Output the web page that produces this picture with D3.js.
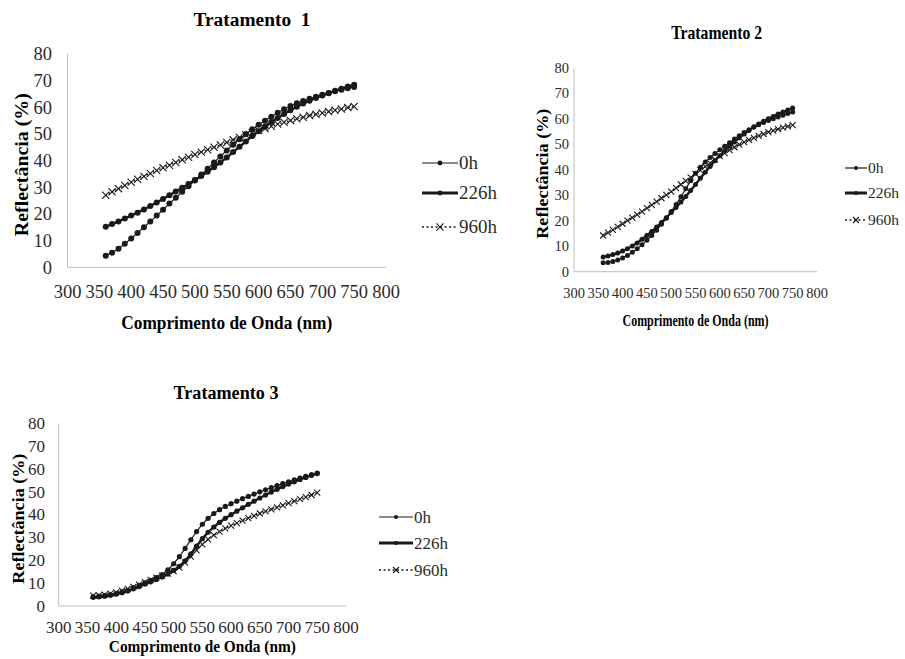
<!DOCTYPE html>
<html><head><meta charset="utf-8">
<script src="https://cdn.jsdelivr.net/npm/d3@7"></script>
<style>body{margin:0;background:#fff}svg{display:block}</style>
</head><body><svg id="c" width="905" height="659" font-family="'Liberation Serif','Times New Roman',serif"></svg>
<script>
// ---------- data ----------
const wavelengths=[360,370,380,390,400,410,420,430,440,450,460,470,480,490,500,510,520,530,540,550,560,570,580,590,600,610,620,630,640,650,660,670,680,690,700,710,720,730,740,750];
const xTicks=[300,350,400,450,500,550,600,650,700,750,800];
const yTicks=[0,10,20,30,40,50,60,70,80];
const seriesNames=["0h","226h","960h"];
const panelTitles=["Tratamento  1","Tratamento 2","Tratamento 3"];
const xAxisTitle="Comprimento de Onda (nm)";
const yAxisTitle="Reflectância (%)";

const t1_0h=[4.3,5.5,7.0,8.8,10.8,12.9,15.0,17.2,19.4,21.6,23.9,26.1,28.3,30.4,32.6,34.8,37.0,39.3,41.6,43.8,46.0,48.0,50.0,51.8,53.5,55.0,56.5,58.0,59.3,60.5,61.5,62.4,63.2,64.0,64.7,65.4,66.0,66.6,67.2,67.6];
const t1_226h=[15.2,16.2,17.2,18.3,19.4,20.5,21.7,23.0,24.3,25.6,27.0,28.4,29.8,31.2,32.7,34.2,35.8,37.5,39.3,41.2,43.2,45.2,47.2,49.2,51.0,52.8,54.5,56.0,57.5,58.9,60.2,61.4,62.5,63.5,64.4,65.3,66.2,67.0,67.8,68.5];
const t1_960h=[27.0,28.3,29.5,30.7,31.9,33.0,34.1,35.2,36.3,37.3,38.3,39.3,40.3,41.3,42.3,43.2,44.1,45.0,45.9,46.8,47.8,48.7,49.6,50.5,51.3,52.1,52.9,53.7,54.4,55.1,55.7,56.3,56.9,57.4,57.9,58.4,58.9,59.4,59.9,60.3];

const t2_0h=[3.5,3.6,4.0,4.6,5.4,6.4,7.6,9.0,10.6,12.3,14.2,16.3,18.6,21.0,23.6,26.4,29.4,32.5,35.7,38.6,41.0,43.0,44.8,46.4,47.8,49.2,50.6,52.0,53.3,54.6,55.7,56.7,57.6,58.5,59.3,60.0,60.7,61.4,62.0,62.6];
const t2_226h=[5.8,6.2,6.7,7.3,8.1,9.0,10.1,11.3,12.7,14.2,15.8,17.5,19.3,21.2,23.2,25.2,27.3,29.5,31.8,34.2,36.6,39.0,41.3,43.5,45.5,47.4,49.2,50.9,52.5,54.0,55.4,56.7,57.9,59.0,60.0,60.9,61.8,62.6,63.4,64.2];
const t2_960h=[14.2,15.3,16.4,17.6,18.8,20.0,21.2,22.4,23.6,24.9,26.2,27.5,28.8,30.1,31.4,32.8,34.2,35.6,37.0,38.4,39.8,41.2,42.6,44.0,45.3,46.5,47.7,48.8,49.8,50.8,51.7,52.5,53.3,54.0,54.7,55.3,55.9,56.5,57.0,57.5];

const t3_0h=[4.0,4.2,4.5,4.9,5.4,6.1,6.9,7.9,9.0,10.1,11.2,12.4,13.8,15.8,18.5,21.6,25.2,29.0,32.6,35.8,38.4,40.5,42.2,43.6,44.8,45.9,47.0,48.0,49.0,50.0,50.9,51.8,52.7,53.6,54.4,55.2,56.0,56.8,57.5,58.2];
const t3_226h=[3.8,4.0,4.3,4.7,5.2,5.8,6.6,7.5,8.5,9.6,10.6,11.6,12.7,14.0,15.6,17.4,19.8,22.8,26.2,29.5,32.3,34.6,36.6,38.4,40.0,41.5,43.0,44.5,45.9,47.3,48.6,49.9,51.1,52.3,53.4,54.4,55.4,56.3,57.2,58.0];
const t3_960h=[4.5,4.7,5.0,5.4,6.0,6.7,7.5,8.4,9.4,10.4,11.4,12.4,13.3,14.2,15.3,16.8,19.0,21.6,24.4,27.0,29.2,31.0,32.6,34.0,35.2,36.3,37.4,38.5,39.5,40.5,41.4,42.3,43.2,44.1,45.0,45.9,46.8,47.7,48.6,49.6];

// ---------- layout ----------
const panels=[
 {title:panelTitles[0],series:[t1_0h,t1_226h,t1_960h],
  px0:67.5,px1:386,py0:267.3,py1:54,
  titleX:252,titleY:20,titleSize:18.5,titleLen:117,
  tickSize:18.5,xTickY:292,yTickX:52,
  xTitleY:323,xTitleSize:18,xTitleLen:211,
  yTitleX:22,yTitleSize:19,yTitleLen:143,
  legX:422,legW:36,legY:[163,193,227],legSize:19,r:3,xs:3.6},
 {title:panelTitles[1],series:[t2_0h,t2_226h,t2_960h],
  px0:574,px1:817,py0:271.7,py1:67.7,
  titleX:716.7,titleY:33,titleSize:19,titleLen:91,
  tickSize:14.5,xTickY:293,yTickX:569,
  xTitleY:320,xTitleSize:17,xTitleLen:146,
  yTitleX:542,yTitleSize:17,yTitleLen:130,
  legX:845,legW:22,legY:[168,193,220],legSize:15.5,r:2.5,xs:3},
 {title:panelTitles[2],series:[t3_0h,t3_226h,t3_960h],
  px0:58.7,px1:346,py0:606,py1:423.3,
  titleX:226,titleY:393,titleSize:18.5,titleLen:105,
  tickSize:17,xTickY:627,yTickX:45,
  xTitleY:646,xTitleSize:16.5,xTitleLen:187,
  yTitleX:18,yTitleSize:17,yTitleLen:130,
  legX:379,legW:34,legY:[517,543,570],legSize:17,r:2.6,xs:3}
];

const svg=d3.select("#c");
const dark="#1a1a1a", axisCol="#bfbfbf", tickCol="#2b2b2b";

function drawMarker(g,type,x,y,r,xs){
  if(type===2){
    g.append("path").attr("d",`M${x-xs},${y-xs}L${x+xs},${y+xs}M${x-xs},${y+xs}L${x+xs},${y-xs}`)
     .attr("stroke",dark).attr("stroke-width",1.1).attr("fill","none");
  } else {
    g.append("circle").attr("cx",x).attr("cy",y).attr("r",r).attr("fill",dark);
  }
}

panels.forEach(p=>{
  const g=svg.append("g");
  const x=d3.scaleLinear().domain([300,800]).range([p.px0,p.px1]);
  const y=d3.scaleLinear().domain([0,80]).range([p.py0,p.py1]);
  g.append("line").attr("x1",x(300)).attr("x2",x(300)).attr("y1",y(80)).attr("y2",y(0)).attr("stroke",axisCol).attr("stroke-width",1);
  g.append("line").attr("x1",x(300)).attr("x2",x(800)).attr("y1",y(0)).attr("y2",y(0)).attr("stroke",axisCol).attr("stroke-width",1);
  g.selectAll(".yt").data(yTicks).enter().append("text").attr("x",p.yTickX).attr("y",d=>y(d)+p.tickSize*0.34)
    .attr("text-anchor","end").attr("font-size",p.tickSize).attr("fill",tickCol).text(d=>d);
  g.selectAll(".xt").data(xTicks).enter().append("text").attr("x",d=>x(d)).attr("y",p.xTickY+p.tickSize*0.34)
    .attr("text-anchor","middle").attr("font-size",p.tickSize).attr("fill",tickCol).text(d=>d);
  g.append("text").attr("x",p.titleX).attr("y",p.titleY+p.titleSize*0.34).attr("text-anchor","middle")
    .attr("font-size",p.titleSize).attr("font-weight","bold").attr("fill","#000")
    .attr("textLength",p.titleLen).attr("lengthAdjust","spacingAndGlyphs").style("white-space","pre").text(p.title);
  g.append("text").attr("x",(p.px0+p.px1)/2).attr("y",p.xTitleY+p.xTitleSize*0.34).attr("text-anchor","middle")
    .attr("font-size",p.xTitleSize).attr("font-weight","bold").attr("fill","#000")
    .attr("textLength",p.xTitleLen).attr("lengthAdjust","spacingAndGlyphs").text(xAxisTitle);
  const cy=(p.py0+p.py1)/2+4;
  g.append("text").attr("transform",`translate(${p.yTitleX},${cy}) rotate(-90)`).attr("y",p.yTitleSize*0.34).attr("text-anchor","middle")
    .attr("font-size",p.yTitleSize).attr("font-weight","bold").attr("fill","#000")
    .attr("textLength",p.yTitleLen).attr("lengthAdjust","spacingAndGlyphs").text(yAxisTitle);
  const widths=[1.2,2.4,1.5];
  p.series.forEach((vals,si)=>{
    const pts=wavelengths.map((w,i)=>[x(w),y(vals[i])]);
    const path=g.append("path").attr("d",d3.line()(pts)).attr("fill","none").attr("stroke",dark).attr("stroke-width",widths[si]);
    if(si===2) path.attr("stroke-dasharray","1.5,2");
    pts.forEach(pt=>drawMarker(g,si,pt[0],pt[1],p.r,p.xs));
  });
  seriesNames.forEach((n,si)=>{
    const ly=p.legY[si];
    const l=g.append("line").attr("x1",p.legX).attr("x2",p.legX+p.legW).attr("y1",ly).attr("y2",ly).attr("stroke",dark).attr("stroke-width",widths[si]+(si===1?0.6:0));
    if(si===2) l.attr("stroke-dasharray","2,2.5");
    drawMarker(g,si,p.legX+p.legW/2,ly,p.r*0.8,p.xs);
    g.append("text").attr("x",p.legX+p.legW+1).attr("y",ly+p.legSize*0.34).attr("font-size",p.legSize).attr("fill",tickCol).text(n);
  });
});
</script></body></html>
